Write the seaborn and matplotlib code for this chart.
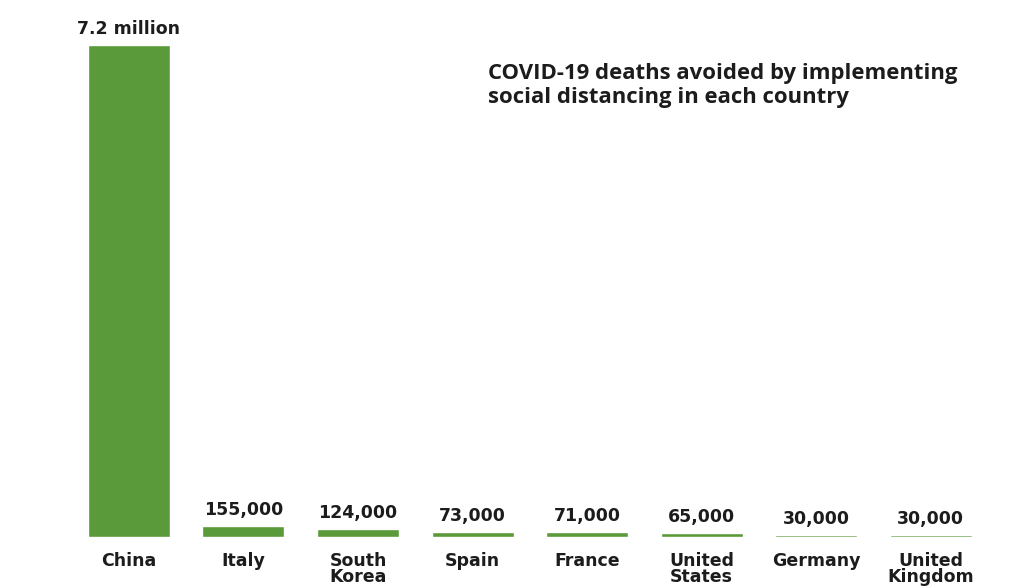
import matplotlib
matplotlib.use("Agg")
import matplotlib.pyplot as plt
import seaborn as sns
import pandas as pd

countries = ["China", "Italy", "South\nKorea", "Spain", "France", "United\nStates", "Germany", "United\nKingdom"]
deaths_avoided = [7200000, 155000, 124000, 73000, 71000, 65000, 30000, 30000]
value_labels = ["7.2 million", "155,000", "124,000", "73,000", "71,000", "65,000", "30,000", "30,000"]
title = "COVID-19 deaths avoided by implementing\nsocial distancing in each country"

sns.set_theme(style="white")
plt.rcParams["font.family"] = ["Open Sans", "DejaVu Sans"]

GREEN = "#5b9a3b"
TEXT = "#1c1c1c"
LABEL_FONT = ["DejaVu Sans"]

df = pd.DataFrame({"country": countries, "deaths": deaths_avoided})

fig = plt.figure(figsize=(10.32, 5.86), dpi=100)
ax = fig.add_axes([0.0694, 0.0836, 0.888, 0.840])

sns.barplot(data=df, x="country", y="deaths", color=GREEN, saturation=1,
            width=0.715, ax=ax)

ax.set_xlim(-0.5, len(countries) - 0.5)
ax.set_ylim(0, max(deaths_avoided))

for i, (v, lab) in enumerate(zip(deaths_avoided, value_labels)):
    ax.annotate(lab, (i, v), xytext=(0, 5), textcoords="offset points",
                ha="center", va="bottom", fontsize=12.5, fontweight="bold",
                family=LABEL_FONT, color=TEXT)

ax.set_xlabel("")
ax.set_ylabel("")
ax.set_yticks([])
ax.tick_params(axis="x", length=0, pad=10.5)
for t in ax.get_xticklabels():
    t.set_fontsize(12.5)
    t.set_fontweight("bold")
    t.set_family(LABEL_FONT)
    t.set_color(TEXT)
    t.set_linespacing(0.92)
    t.set_verticalalignment("top")
for s in ax.spines.values():
    s.set_visible(False)

fig.text(0.473, 0.893, title, ha="left", va="top", fontsize=15.9,
         fontweight="bold", color=TEXT, linespacing=1.22)

fig.savefig("out.png", dpi=100, facecolor="white")
